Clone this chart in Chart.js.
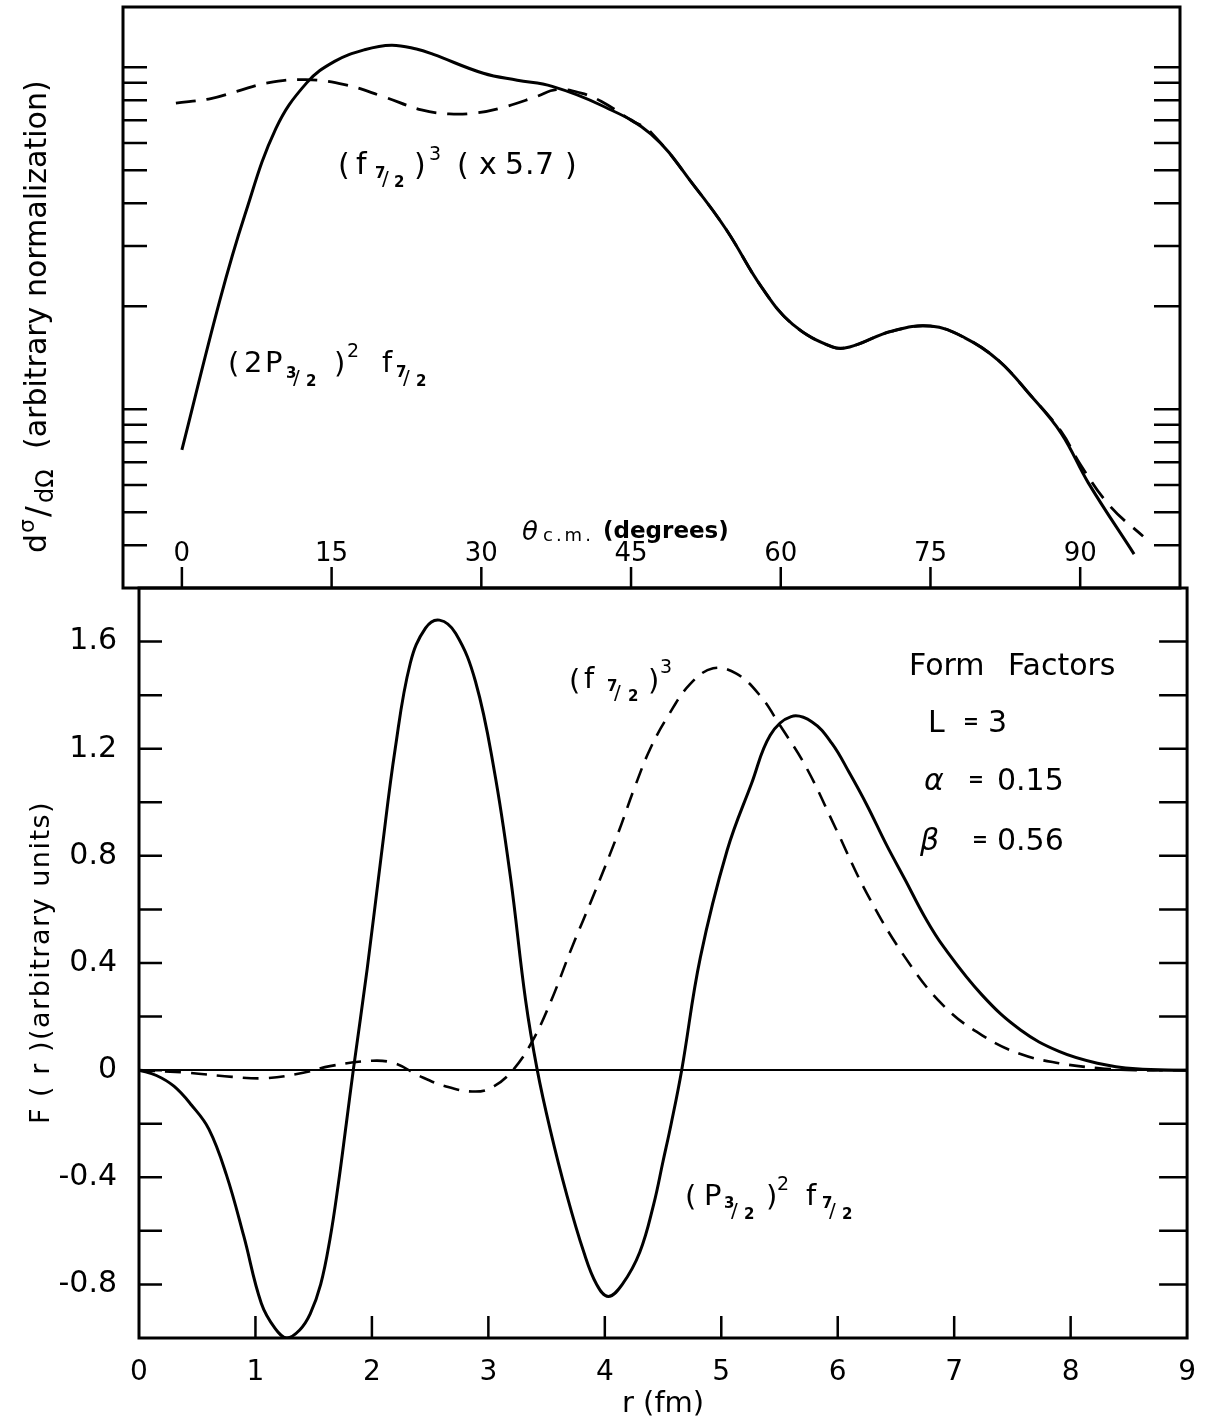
<!DOCTYPE html>
<html>
<head>
<meta charset="utf-8">
<script src="https://cdn.jsdelivr.net/npm/chart.js@4.4.1/dist/chart.umd.min.js"></script>
<style>
html, body { margin: 0; padding: 0; background: #fff; }
#wrap { position: relative; width: 1206px; height: 1422px; }
canvas { position: absolute; left: 0; top: 0; }
</style>
</head>
<body>
<div id="wrap">
<canvas id="crossChart" width="1206" height="1422"></canvas>
<canvas id="formChart" width="1206" height="1422"></canvas>
</div>
<script>
// top panel: d(sigma)/d(Omega) vs theta c.m., log scale
const thetaSolid = [0, 3.8, 6.3, 9.4, 12.5, 15.3, 18.3, 21, 23.5, 25.2, 30.2, 33.6, 37.1, 42, 47, 51.5, 54.6, 58.1, 61.2, 65.2, 66.9, 71.1, 75, 78.4, 81.8, 85, 88.1, 90.8, 95.4];
const sigmaSolid = [7.6, 20.8, 36.9, 66, 90, 104, 112.5, 116, 113, 109, 96, 91.6, 87.9, 77.4, 63.7, 44.3, 33.3, 22.7, 17.7, 15.2, 15.2, 16.9, 17.5, 16.2, 13.9, 11.0, 8.5, 6.1, 3.77];
const thetaDashed = [-0.6, 2.9, 5.5, 8.6, 12.4, 16.3, 20.2, 24, 26.8, 29.5, 32, 35.5, 37.5, 40, 42, 45, 47, 51.5, 54.6, 58.1, 61.2, 65.2, 66.9, 71.1, 75, 78.4, 81.8, 85, 88.1, 90, 93, 96.3];
const sigmaDashed = [78.5, 81, 85, 90, 92, 89, 82, 75, 73, 73.5, 76, 82, 86, 84, 79.5, 70, 64.5, 44.3, 33.3, 22.7, 17.7, 15.2, 15.2, 16.9, 17.5, 16.2, 13.9, 11.0, 8.6, 6.9, 5.2, 4.25];
const thetaTicks = [0, 15, 30, 45, 60, 75, 90];
const thetaTickLabels = ['0', '15', '30', '45', '60', '75', '90'];
const sigmaTicks = [4, 5, 6, 7, 8, 9, 10, 20, 30, 40, 50, 60, 70, 80, 90, 100];

// bottom panel: form factors F(r)
const rSolid = [0, 0.15, 0.3, 0.45, 0.6, 0.75, 0.9, 1.05, 1.17, 1.27, 1.38, 1.47, 1.56, 1.64, 1.71, 1.78, 1.84, 1.96, 2.08, 2.2, 2.33, 2.46, 2.58, 2.72, 2.89, 3.05, 3.19, 3.32, 3.42, 3.53, 3.67, 3.82, 3.93, 4.03, 4.15, 4.3, 4.42, 4.5, 4.57, 4.66, 4.82, 5.05, 5.26, 5.42, 5.6, 5.78, 5.95, 6.1, 6.25, 6.42, 6.58, 6.75, 6.91, 7.24, 7.57, 7.9, 8.23, 8.56, 9];
const formSolid = [0, -0.02, -0.06, -0.13, -0.22, -0.39, -0.62, -0.87, -0.965, -1.0, -0.97, -0.91, -0.8, -0.63, -0.43, -0.2, 0, 0.38, 0.8, 1.2, 1.52, 1.65, 1.68, 1.63, 1.45, 1.12, 0.72, 0.26, 0, -0.22, -0.46, -0.68, -0.8, -0.845, -0.8, -0.68, -0.5, -0.34, -0.2, 0, 0.42, 0.82, 1.07, 1.25, 1.32, 1.3, 1.22, 1.11, 0.99, 0.84, 0.71, 0.57, 0.46, 0.28, 0.15, 0.07, 0.026, 0.005, 0];
const rDashed = [0, 0.43, 0.8, 1.09, 1.41, 1.64, 2.0, 2.2, 2.4, 2.63, 2.89, 3.05, 3.22, 3.38, 3.54, 3.71, 3.91, 4.11, 4.26, 4.39, 4.54, 4.73, 4.93, 5.13, 5.33, 5.5, 5.73, 5.98, 6.25, 6.58, 6.91, 7.24, 7.57, 7.9, 8.23, 8.56, 9];
const formDashed = [0, -0.01, -0.025, -0.03, -0.01, 0.015, 0.035, 0.025, -0.02, -0.06, -0.08, -0.06, 0.005, 0.11, 0.26, 0.45, 0.66, 0.88, 1.06, 1.2, 1.32, 1.44, 1.5, 1.48, 1.4, 1.29, 1.13, 0.905, 0.66, 0.42, 0.24, 0.13, 0.06, 0.026, 0.008, 0.0, 0];
const rTicks = [0, 1, 2, 3, 4, 5, 6, 7, 8, 9];
const rTickLabels = ['0', '1', '2', '3', '4', '5', '6', '7', '8', '9'];
const formTicks = [-0.8, -0.6, -0.4, -0.2, 0, 0.2, 0.4, 0.6, 0.8, 1.0, 1.2, 1.4, 1.6];
const formLabelValues = [-0.8, -0.4, 0, 0.4, 0.8, 1.2, 1.6];
const formLabels = ['-0.8', '-0.4', '0', '0.4', '0.8', '1.2', '1.6'];

const FONT = '"DejaVu Sans", sans-serif';
Chart.defaults.font.family = FONT;
Chart.defaults.color = '#000';

function pts(xs, ys) {
    return xs.map((v, i) => ({ x: v, y: ys[i] }));
}

// [text, x, y, size, style, letterSpacing]
function drawPieces(ctx, pieces) {
    ctx.textAlign = 'left';
    ctx.textBaseline = 'alphabetic';
    pieces.forEach(([t, px, py, size, style, sp]) => {
        ctx.font = (style ? style + ' ' : '') + size + 'px ' + FONT;
        ctx.letterSpacing = sp || '0px';
        ctx.fillText(t, px, py);
    });
    ctx.letterSpacing = '0px';
}

const crossDecor = {
    id: 'crossDecor',
    afterDraw(chart) {
        const { ctx, chartArea: a, scales: { x, y } } = chart;
        ctx.save();
        ctx.strokeStyle = '#000';
        ctx.fillStyle = '#000';
        ctx.lineWidth = 3;
        ctx.strokeRect(a.left, a.top, a.right - a.left, a.bottom - a.top);
        ctx.lineWidth = 2.5;
        ctx.beginPath();
        sigmaTicks.forEach(v => {
            const py = y.getPixelForValue(v);
            ctx.moveTo(a.left, py); ctx.lineTo(a.left + 24, py);
            ctx.moveTo(a.right - 26, py); ctx.lineTo(a.right, py);
        });
        thetaTicks.forEach(v => {
            const px = x.getPixelForValue(v);
            ctx.moveTo(px, a.bottom); ctx.lineTo(px, a.bottom - 21);
        });
        ctx.stroke();

        ctx.textAlign = 'center';
        ctx.textBaseline = 'middle';
        ctx.font = '26px ' + FONT;
        thetaTicks.forEach((v, i) => ctx.fillText(thetaTickLabels[i], x.getPixelForValue(v), a.bottom - 34));

        // axis title inside the frame
        drawPieces(ctx, [
            ['θ', 522, 540, 26, 'italic'],
            ['c.m.', 543, 541, 18, '', '3px'],
            ['(degrees)', 603, 538, 23, 'bold']
        ]);

        // curve labels
        drawPieces(ctx, [
            ['(', 338, 175, 30], ['f', 356, 174, 30],
            ['7', 375, 178, 15, 'bold'], ['/', 382, 185, 20], ['2', 394, 187, 15, 'bold'],
            [')', 414, 175, 30], ['3', 429, 160, 19],
            ['(', 457, 175, 30], ['x', 479, 174, 30], ['5', 505, 174, 30], ['.', 525, 174, 30], ['7', 535, 174, 30], [')', 565, 175, 30]
        ]);
        drawPieces(ctx, [
            ['(', 228, 373, 29], ['2', 244, 372, 29], ['P', 265, 372, 29],
            ['3', 286, 378, 15, 'bold'], ['/', 293, 384, 20], ['2', 306, 386, 15, 'bold'],
            [')', 334, 373, 29], ['2', 347, 357, 19],
            ['f', 382, 372, 29],
            ['7', 396, 377, 15, 'bold'], ['/', 403, 384, 20], ['2', 416, 386, 15, 'bold']
        ]);

        // rotated y title
        ctx.save();
        ctx.translate(46, 553);
        ctx.rotate(-Math.PI / 2);
        drawPieces(ctx, [
            ['d', 0, 0, 30], ['σ', 20, -12, 22], ['/', 36, 2, 32],
            ['dΩ', 50, 7, 24],
            ['(arbitrary normalization)', 104, 0, 30]
        ]);
        ctx.restore();
        ctx.restore();
    }
};

const formDecor = {
    id: 'formDecor',
    afterDraw(chart) {
        const { ctx, chartArea: a, scales: { x, y } } = chart;
        ctx.save();
        ctx.strokeStyle = '#000';
        ctx.fillStyle = '#000';
        ctx.lineWidth = 3;
        ctx.strokeRect(a.left, a.top, a.right - a.left, a.bottom - a.top);
        ctx.lineWidth = 2.5;
        ctx.beginPath();
        formTicks.forEach(v => {
            const py = y.getPixelForValue(v);
            ctx.moveTo(a.left, py); ctx.lineTo(a.left + 23, py);
            ctx.moveTo(a.right - 28, py); ctx.lineTo(a.right, py);
        });
        rTicks.slice(1, -1).forEach(v => {
            const px = x.getPixelForValue(v);
            ctx.moveTo(px, a.bottom); ctx.lineTo(px, a.bottom - 22);
        });
        ctx.stroke();

        ctx.save();
        ctx.translate(49, 1124);
        ctx.rotate(-Math.PI / 2);
        drawPieces(ctx, [['F ( r )(arbitrary units)', 0, 0, 27, '', '1.5px']]);
        ctx.restore();

        drawPieces(ctx, [
            ['(', 569, 690, 29], ['f', 584, 688, 29],
            ['7', 607, 691, 15, 'bold'], ['/', 614, 699, 20], ['2', 628, 701, 15, 'bold'],
            [')', 648, 690, 29], ['3', 660, 673, 19]
        ]);
        drawPieces(ctx, [
            ['(', 685, 1206, 29], ['P', 704, 1205, 29],
            ['3', 724, 1208, 15, 'bold'], ['/', 731, 1217, 20], ['2', 744, 1219, 15, 'bold'],
            [')', 766, 1206, 29], ['2', 777, 1190, 19],
            ['f', 806, 1205, 29],
            ['7', 822, 1208, 15, 'bold'], ['/', 829, 1217, 20], ['2', 842, 1219, 15, 'bold']
        ]);
        drawPieces(ctx, [
            ['Form', 909, 675, 30], ['Factors', 1008, 675, 30],
            ['L', 928, 732, 30], ['=', 963, 728, 19, 'bold'], ['3', 988, 732, 30],
            ['α', 924, 790, 30, 'italic'], ['=', 968, 786, 19, 'bold'], ['0.15', 997, 790, 30],
            ['β', 920, 850, 30, 'italic'], ['=', 972, 846, 19, 'bold'], ['0.56', 997, 850, 30]
        ]);
        ctx.restore();
    }
};

const lineStyle = {
    borderColor: '#000',
    pointRadius: 0,
    fill: false,
    tension: 0.4
};

const crossChart = new Chart(document.getElementById('crossChart'), {
    type: 'line',
    data: {
        datasets: [
            { ...lineStyle, label: '(2P3/2)^2 f7/2', data: pts(thetaSolid, sigmaSolid), borderWidth: 3 },
            { ...lineStyle, label: '(f7/2)^3 (x 5.7)', data: pts(thetaDashed, sigmaDashed), borderWidth: 2.8, borderDash: [20, 11] }
        ]
    },
    options: {
        responsive: false,
        animation: false,
        devicePixelRatio: 1,
        events: [],
        layout: { padding: { left: 123, top: 7, right: 26, bottom: 834 } },
        plugins: { legend: { display: false }, tooltip: { enabled: false } },
        scales: {
            x: { type: 'linear', min: -5.9, max: 100, display: false },
            y: { type: 'logarithmic', min: 3, max: 150, display: false }
        }
    },
    plugins: [crossDecor]
});

const formChart = new Chart(document.getElementById('formChart'), {
    type: 'line',
    data: {
        datasets: [
            { ...lineStyle, label: '(P3/2)^2 f7/2', data: pts(rSolid, formSolid), borderWidth: 3 },
            { ...lineStyle, label: '(f7/2)^3', data: pts(rDashed, formDashed), borderWidth: 2.6, borderDash: [16, 10] }
        ]
    },
    options: {
        responsive: false,
        animation: false,
        devicePixelRatio: 1,
        events: [],
        layout: { padding: { left: 0, top: 588, right: 14, bottom: 0 } },
        plugins: { legend: { display: false }, tooltip: { enabled: false } },
        scales: {
            x: {
                type: 'linear', min: 0, max: 9,
                afterFit(s) { s.height = 84; },
                grid: { display: false },
                border: { display: false },
                ticks: {
                    stepSize: 1, autoSkip: false, maxRotation: 0, padding: 10,
                    font: { size: 28 },
                    callback: v => { const i = rTicks.indexOf(v); return i < 0 ? '' : rTickLabels[i]; }
                },
                title: { display: true, text: 'r (fm)', font: { size: 29 }, padding: { top: 0, bottom: 0 } }
            },
            y: {
                type: 'linear', min: -1, max: 1.8,
                afterFit(s) { s.width = 139; },
                grid: {
                    drawTicks: false,
                    lineWidth: 2,
                    color: c => (c.tick && Math.abs(c.tick.value) < 1e-9) ? '#000' : 'rgba(0,0,0,0)'
                },
                border: { display: false },
                ticks: {
                    stepSize: 0.2, autoSkip: false, padding: 22,
                    font: { size: 30 },
                    callback: v => {
                        const i = formLabelValues.findIndex(t => Math.abs(t - v) < 1e-6);
                        return i < 0 ? '' : formLabels[i];
                    }
                }
            }
        }
    },
    plugins: [formDecor]
});
</script>
</body>
</html>
